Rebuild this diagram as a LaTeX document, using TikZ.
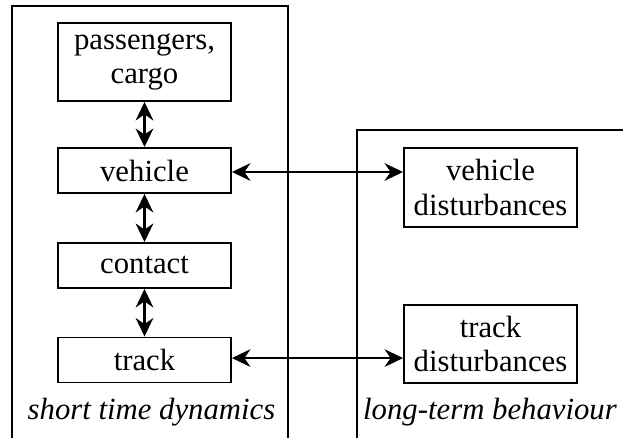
\documentclass[tikz,border=0pt]{standalone}
\usepackage{fontspec}
\setmainfont{Liberation Serif}
\usetikzlibrary{arrows.meta, positioning}
\tikzset{
    box/.style={rectangle, draw, line width=1.1pt, minimum width=3.46cm, minimum height=0.9cm, align=center, inner sep=0pt, font=\fontsize{17.5}{19.5}\selectfont},
    frame/.style={line width=0.8pt},
    arr/.style={{Stealth[length=10.5pt, width=10pt]}-{Stealth[length=10.5pt, width=10pt]}, line width=1.5pt},
    arr_h/.style={arr, line width=1.3pt},
    lbl/.style={font=\fontsize{17.5}{19.5}\selectfont\itshape},
}
\begin{document}
\begin{tikzpicture}[x=0.02cm, y=-0.02cm]
\useasboundingbox (0,0) rectangle (623,438);

% Frames
\draw[frame] (12,438) -- (12,6) -- (288,6) -- (288,438);
\draw[frame] (357,438) -- (357,130) -- (623,130);

% Short time dynamics
\node[box, minimum height=1.56cm] (pass) at (144.5,62) {passengers,\\cargo};
\node[box] (veh) at (144.5,170.5) {vehicle};
\node[box] (cont) at (144.5,265.5) {contact};
\node[box] (trk) at (144.5,360) {track};

% Long-term behaviour
\node[box, minimum height=1.58cm] (vdist) at (490.5,187.5) {vehicle\\disturbances};
\node[box, minimum height=1.56cm] (tdist) at (490.5,344) {track\\disturbances};

% Arrows
\draw[arr] (pass) -- (veh);
\draw[arr] (veh) -- (cont);
\draw[arr] (cont) -- (trk);
\draw[arr_h] ([yshift=-0.85pt]veh.east) -- ([yshift=-0.85pt]veh.east -| vdist.west);
\draw[arr_h] ([yshift=1.1pt]trk.east) -- ([yshift=1.1pt]trk.east -| tdist.west);

% Labels
\node[lbl] (short) at (151.5,412) {short time dynamics};
\node[lbl] (long) at (490,412) {long-term behaviour};

\end{tikzpicture}
\end{document}
